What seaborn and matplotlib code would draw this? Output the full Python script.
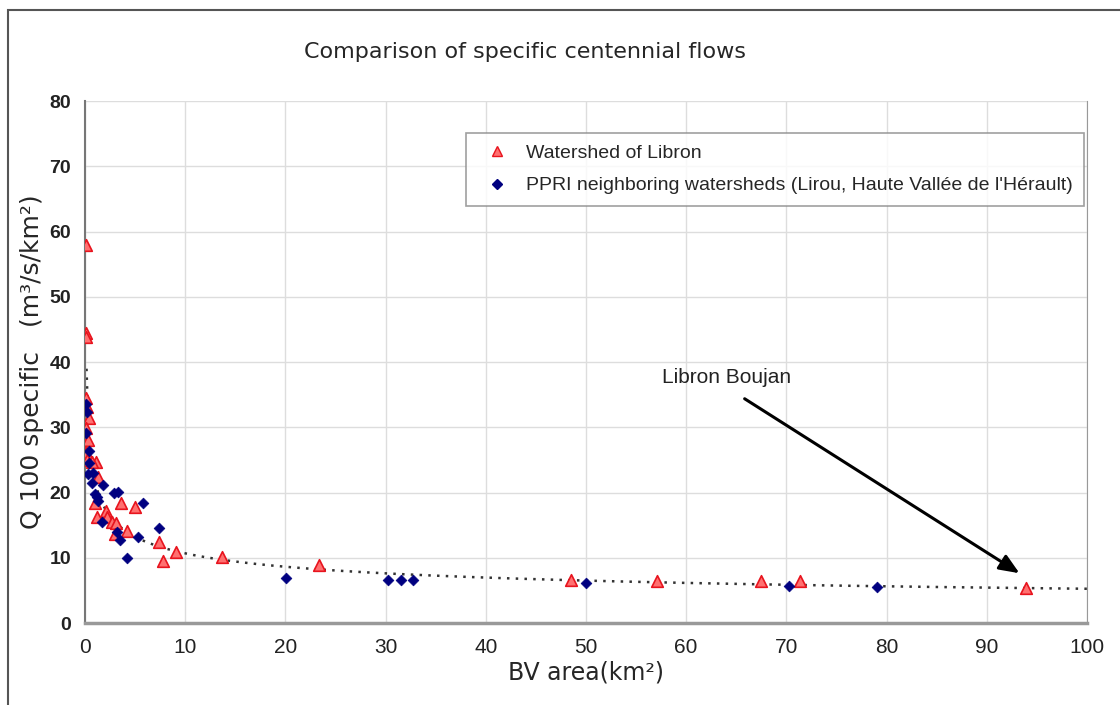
import numpy as np
import pandas as pd
import seaborn as sns
import matplotlib.pyplot as plt
from matplotlib.lines import Line2D
from matplotlib.patches import Rectangle

# Watershed of Libron (area km2, Q100 specific m3/s/km2)
libron_area = [0.05, 0.05, 0.08, 0.05, 0.2, 0.4, 0.1, 0.3, 0.1, 0.2, 1.1, 0.7,
               1.3, 3.6, 5.0, 1.0, 1.2, 2.1, 2.2, 2.7, 3.1, 3.0, 4.2, 7.4,
               9.1, 7.8, 13.7, 23.4, 48.5, 57.1, 67.5, 71.4, 93.9]
libron_q100 = [57.9, 44.5, 43.8, 34.5, 33.1, 31.4, 29.9, 28.0, 26.2, 25.0, 24.7, 24.7,
               22.4, 18.4, 17.8, 18.4, 16.3, 17.2, 16.3, 15.5, 15.3, 13.6, 14.1, 12.4,
               10.9, 9.5, 10.1, 8.9, 6.6, 6.4, 6.4, 6.4, 5.4]

# PPRI neighboring watersheds
ppri_area = [0.05, 0.2, 0.1, 0.4, 0.4, 0.3, 0.8, 0.7, 1.8, 1.0, 1.2, 1.3,
             2.9, 3.3, 5.8, 1.7, 3.2, 3.5, 5.3, 7.4, 4.2,
             20.1, 30.2, 31.5, 32.7, 50.0, 70.3, 79.0]
ppri_q100 = [33.6, 32.3, 29.1, 26.4, 24.5, 22.8, 23.0, 21.5, 21.1, 19.8, 19.3, 18.7,
             19.9, 20.1, 18.4, 15.5, 14.0, 12.7, 13.2, 14.5, 10.0,
             6.9, 6.6, 6.6, 6.6, 6.1, 5.7, 5.5]

lab_libron = "Watershed of Libron"
lab_ppri = "PPRI neighboring watersheds (Lirou, Haute Vallée de l'Hérault)"

df = pd.DataFrame({
    "area": libron_area + ppri_area,
    "q100": libron_q100 + ppri_q100,
    "group": [lab_libron] * len(libron_area) + [lab_ppri] * len(ppri_area),
})

# power trend line fitted on the basins >= 1 km2 (log-log)
fit = df[df["area"] >= 1]
b, a = np.polyfit(np.log(fit["area"]), np.log(fit["q100"]), 1)
trend_x = np.linspace(0.15, 100, 600)
trend_y = np.exp(a) * trend_x ** b

sns.set_style("white")
plt.rcParams["font.family"] = ["Liberation Sans", "DejaVu Sans"]

fig = plt.figure(figsize=(11.2, 7.05), dpi=100)
ax = fig.add_axes([0.0759, 0.1163, 0.8946, 0.7404])

ax.plot(trend_x, trend_y, color="#333333", linestyle=(0, (1, 2.5)), linewidth=1.8, zorder=2)

red = df[df["group"] == lab_libron]
blue = df[df["group"] == lab_ppri]
sns.scatterplot(data=red, x="area", y="q100", marker="^", s=70, color="#ff7070",
                edgecolor="#e8141e", linewidth=1.2, ax=ax, zorder=3)
sns.scatterplot(data=blue, x="area", y="q100", marker="D", s=30, color="#000080",
                edgecolor="#000080", linewidth=0.5, ax=ax, zorder=4)

ax.set_xlim(0, 100)
ax.set_ylim(0, 80)
ax.set_xticks(range(0, 101, 10))
ax.set_yticks(range(0, 81, 10))
ax.grid(True, color="#dddddd", linewidth=1)
ax.set_axisbelow(True)
ax.spines["top"].set_visible(False)
ax.spines["right"].set_color("#999999")
ax.spines["left"].set_color("#777777")
ax.spines["left"].set_linewidth(1.5)
ax.spines["bottom"].set_color("#999999")
ax.spines["bottom"].set_linewidth(2.5)
ax.tick_params(axis="both", direction="out", length=6, width=1, color="#777777")
ax.tick_params(axis="y", labelsize=14, pad=4, labelcolor="#222222")
ax.tick_params(axis="x", labelsize=15, pad=5, labelcolor="#222222")
for t in ax.get_yticklabels():
    t.set_fontweight("bold")

ax.set_xlabel("BV area(km²)", fontsize=17, labelpad=2, family="DejaVu Sans")
ax.set_ylabel("Q 100 specific   (m³/s/km²)", fontsize=18, labelpad=4, family="DejaVu Sans")
fig.text(0.469, 0.926, "Comparison of specific centennial flows", fontsize=16,
         ha="center", va="center", family="DejaVu Sans")

# annotation
ax.annotate("", xy=(93.5, 7.4), xytext=(65.6, 34.6),
            arrowprops=dict(arrowstyle="-|>,head_length=1.2,head_width=0.5", color="black", lw=2.2))
ax.text(57.6, 37.7, "Libron Boujan", fontsize=15, va="center", ha="left", color="#222222")

handles = [
    Line2D([], [], marker="^", linestyle="", markersize=7, markerfacecolor="#ff7070",
           markeredgecolor="#e8141e", label=lab_libron),
    Line2D([], [], marker="D", linestyle="", markersize=5, markerfacecolor="#000080",
           markeredgecolor="#000080", label=lab_ppri),
]
leg = ax.legend(handles=handles, loc="upper left", bbox_to_anchor=(0.380, 0.939),
                frameon=True, fancybox=False, edgecolor="#888888",
                borderpad=0.6, labelspacing=0.75, handletextpad=0.5, borderaxespad=0,
                prop={"family": "Liberation Sans", "size": 14})
leg.get_frame().set_linewidth(1.2)

# outer frame
fig.patches.append(Rectangle((8 / 1120, -0.1), 1.2, (705 - 10) / 705 + 0.1,
                             transform=fig.transFigure, fill=False,
                             edgecolor="#555555", linewidth=1.5))

fig.savefig("out.png", dpi=100)
